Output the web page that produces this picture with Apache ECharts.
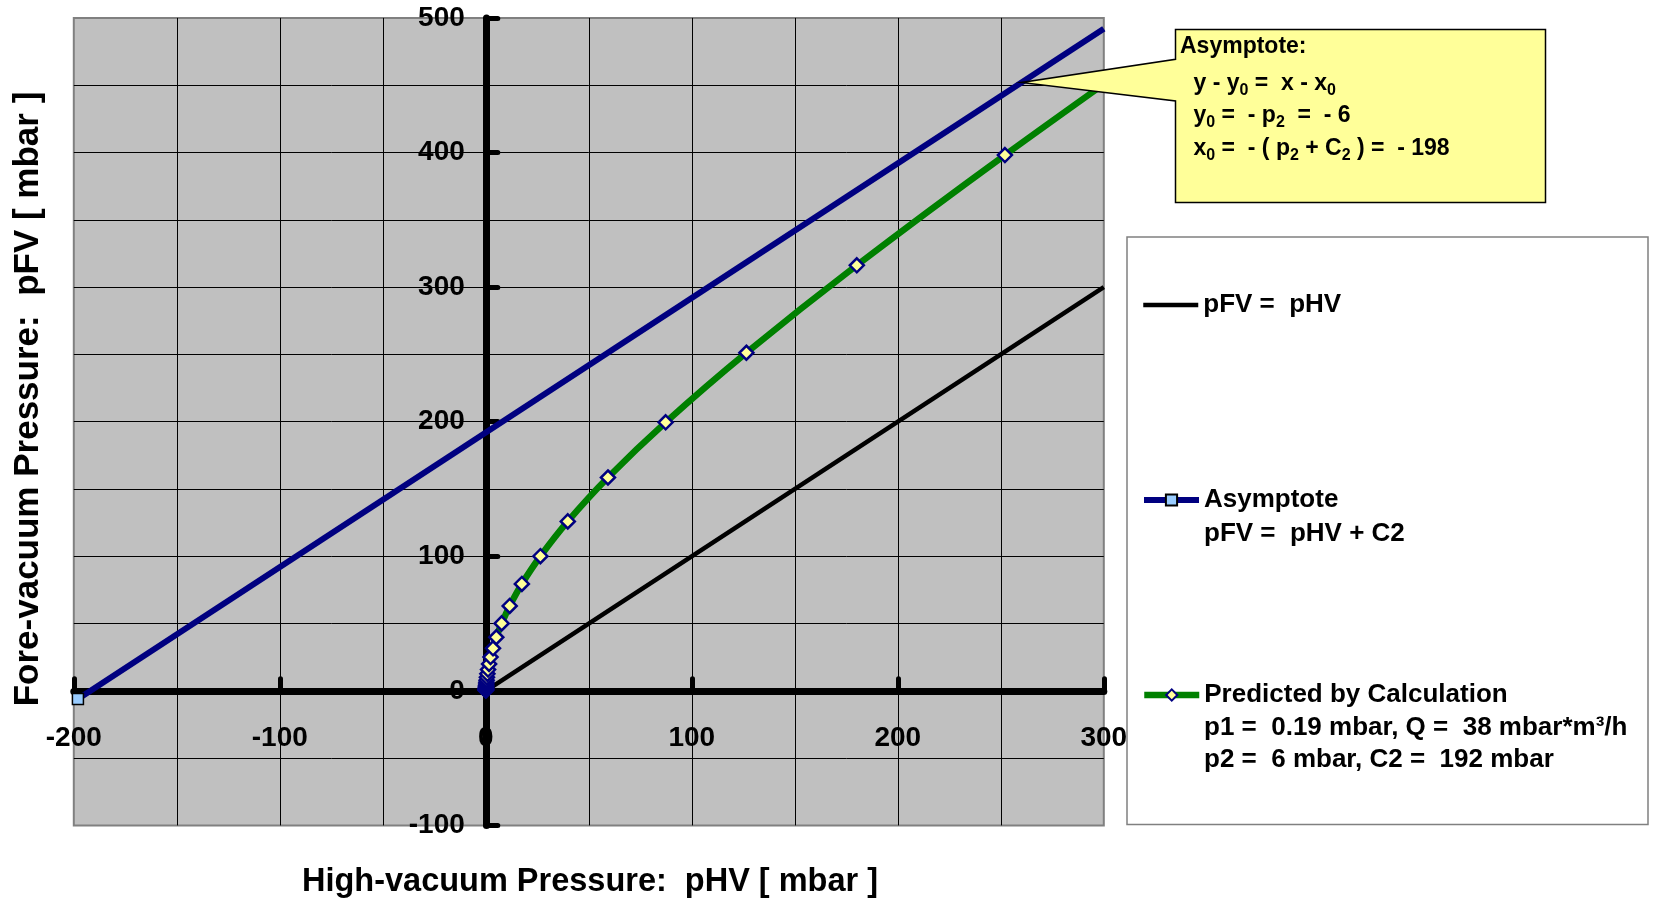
<!DOCTYPE html>
<html><head><meta charset="utf-8">
<script src="https://cdn.jsdelivr.net/npm/echarts@6/dist/echarts.min.js"></script>
<style>html,body{margin:0;padding:0;background:#fff}#c{width:1653px;height:903px}</style>
</head><body><div id="c"></div>
<script>
const FONT = '"Liberation Sans", Arial, Helvetica, sans-serif';
// tick labels
const xTickLabels = [-200, -100, 0, 100, 200, 300];
const yTickLabels = [-100, 0, 100, 200, 300, 400, 500];
// series: pFV = pHV
const identityX = [0, 300];
const identityY = [0, 300];
// series: asymptote pFV = pHV + C2
const asymX = [-198, 300];
const asymY = [-6, 492];
// series: predicted by calculation
const predX = [0.006, 0.012, 0.019, 0.026, 0.033, 0.044, 0.055, 0.071, 0.092, 0.12, 0.16, 0.21, 0.29, 0.4, 0.55, 0.78, 1.1, 1.6, 2.3, 3.5, 5.1, 7.7, 11.6, 17.5, 26.5, 39.8, 59.3, 87.3, 126.5, 180.1, 252.0, 346.4];
const predY = [0.2, 0.4, 0.6, 0.8, 1, 1.3, 1.6, 2, 2.5, 3.2, 4, 5, 6.3, 7.9, 10, 12.6, 15.8, 20, 25.1, 31.6, 39.8, 50.1, 63.1, 79.4, 100, 125.9, 158.5, 199.5, 251.2, 316.2, 398.1, 501.2];
// legend texts
const legendNames = ['pFV =  pHV', 'Asymptote', 'Predicted by Calculation'];
const legendExtra = [['pFV =  pHV + C2'], ['p1 =  0.19 mbar, Q =  38 mbar*m\u00b3/h', 'p2 =  6 mbar, C2 =  192 mbar']];
// callout anchor on asymptote (data coords)
const calloutTip = [260, 452];

const chart = echarts.init(document.getElementById('c'), null, {renderer: 'canvas', devicePixelRatio: 1});

const bold = {fontFamily: FONT, fontWeight: 'bold', color: '#000'};

const option = {
  animation: false,
  backgroundColor: '#fff',
  grid: {left: 73.8, top: 17.9, width: 1030, height: 807.5, show: true, backgroundColor: '#C0C0C0', borderColor: '#808080', borderWidth: 2, containLabel: false, outerBoundsMode: 'none'},
  xAxis: [
    {type: 'value', min: -200, max: 300, interval: 100, position: 'bottom',
     axisLine: {onZero: true, onZeroAxisIndex: 0, lineStyle: {color: '#000', width: 7}},
     axisTick: {inside: true, length: 12, lineStyle: {color: '#000', width: 5, cap: 'round'}},
     axisLabel: {show: false},
     splitLine: {show: false}},
    {type: 'value', min: -200, max: 300, interval: 50, position: 'top',
     axisLine: {show: false}, axisTick: {show: false}, axisLabel: {show: false},
     splitLine: {show: true, showMinLine: false, showMaxLine: false, lineStyle: {color: '#000', width: 1}}}
  ],
  yAxis: [
    {type: 'value', min: -100, max: 500, interval: 100, position: 'left',
     axisLine: {onZero: true, onZeroAxisIndex: 0, lineStyle: {color: '#000', width: 7}},
     axisTick: {inside: true, length: 12, lineStyle: {color: '#000', width: 5, cap: 'round'}},
     axisLabel: {show: false},
     splitLine: {show: false}},
    {type: 'value', min: -100, max: 500, interval: 50, position: 'right',
     axisLine: {show: false}, axisTick: {show: false}, axisLabel: {show: false},
     splitLine: {show: true, showMinLine: false, showMaxLine: false, lineStyle: {color: '#000', width: 1}}}
  ],
  legend: legendNames.map((n, i) => ({
    data: [i === 0 ? {name: n, itemStyle: {opacity: 0}} : n], left: 1141, top: [290, 485, 680][i], orient: 'horizontal', padding: 0,
    itemWidth: 55, itemHeight: 14, selectedMode: false,
    lineStyle: {width: 'inherit'},
    textStyle: Object.assign({fontSize: 26, lineHeight: 30}, bold)
  })),
  series: [
    {type: 'line', name: legendNames[0], xAxisIndex: 0, yAxisIndex: 0,
     data: identityX.map((x, i) => [x, identityY[i]]), symbol: 'none',
     lineStyle: {color: '#000', width: 4.5}, itemStyle: {color: '#000'}, z: 3},
    {type: 'line', name: legendNames[1], xAxisIndex: 0, yAxisIndex: 0,
     data: asymX.map((x, i) => ({value: [x, asymY[i]], symbol: i === 0 ? 'rect' : 'none'})),
     symbol: 'rect', symbolSize: 11, showAllSymbol: true,
     lineStyle: {color: '#000080', width: 6}, itemStyle: {color: '#99CCFF', borderColor: '#000', borderWidth: 1.5}, z: 4},
    {type: 'line', name: legendNames[2], xAxisIndex: 0, yAxisIndex: 0,
     data: predX.map((x, i) => [x, predY[i]]), symbol: 'diamond', symbolSize: 14, showAllSymbol: true, smooth: 0.3,
     lineStyle: {color: '#008000', width: 6.5}, itemStyle: {color: '#FFFF99', borderColor: '#000080', borderWidth: 2.5}, z: 5}
  ]
};
chart.setOption(option);

const tip = chart.convertToPixel({xAxisIndex: 0, yAxisIndex: 0}, calloutTip);
const originPx = chart.convertToPixel({xAxisIndex: 0, yAxisIndex: 0}, [0, 0]);
const bx0 = 1175.5, by0 = 29.5, bx1 = 1545.5, by1 = 202.5;
const sub = {fontFamily: FONT, fontWeight: 'bold', fontSize: 16, lineHeight: 29, verticalAlign: 'bottom', fill: '#000'};
const main = {fontFamily: FONT, fontWeight: 'bold', fontSize: 23, lineHeight: 29, fill: '#000'};
function richText(x, y, text) {
  return {type: 'text', z: 101, style: {x: x, y: y, text: text, rich: {m: main, s: sub}, verticalAlign: 'top', align: 'left'}};
}
function label(x, y, text, align) {
  return {type: 'text', z: 20, style: {x: x, y: y, text: text, fontSize: 28, align: align, verticalAlign: 'middle', fontFamily: FONT, fontWeight: 'bold', fill: '#000'}};
}
const graphics = [
  {type: 'rect', z: 1, shape: {x: 1127, y: 237, width: 521, height: 587.5}, style: {fill: '#fff', stroke: '#808080', lineWidth: 1.5}},
  {type: 'polygon', z: 100, shape: {points: [[bx0, by0], [bx1, by0], [bx1, by1], [bx0, by1], [bx0, 101], tip, [bx0, 59.3]]},
   style: {fill: '#FFFF99', stroke: '#000', lineWidth: 1.5}},
  richText(1180, 32.5, '{m|Asymptote:}'),
  richText(1193.5, 69.2, '{m|y - y}{s|0}{m| =  x - x}{s|0}'),
  richText(1193.5, 101.5, '{m|y}{s|0}{m| =  - p}{s|2}{m|  =  - 6}'),
  richText(1193.5, 134.2, '{m|x}{s|0}{m| =  - ( p}{s|2}{m| + C}{s|2}{m| ) =  - 198}'),
  {type: 'text', z: 10, style: {x: 1204, y: 533.5, text: legendExtra[0][0], fontSize: 26, verticalAlign: 'middle', fontFamily: FONT, fontWeight: 'bold', fill: '#000'}},
  {type: 'text', z: 10, style: {x: 1204, y: 727.4, text: legendExtra[1][0], fontSize: 26, verticalAlign: 'middle', fontFamily: FONT, fontWeight: 'bold', fill: '#000'}},
  {type: 'text', z: 10, style: {x: 1204, y: 760, text: legendExtra[1][1], fontSize: 26, verticalAlign: 'middle', fontFamily: FONT, fontWeight: 'bold', fill: '#000'}},
  {type: 'text', z: 10, style: {x: 590, y: 882, text: 'High-vacuum Pressure:  pHV [ mbar ]', fontSize: 32.5, align: 'center', verticalAlign: 'middle', fontFamily: FONT, fontWeight: 'bold', fill: '#000'}},
  {type: 'text', z: 10, x: 28.5, y: 399, rotation: Math.PI / 2, style: {x: 0, y: 0, text: 'Fore-vacuum Pressure:  pFV [ mbar ]', fontSize: 35, align: 'center', verticalAlign: 'middle', fontFamily: FONT, fontWeight: 'bold', fill: '#000'}}
];
xTickLabels.forEach(v => {
  const px = chart.convertToPixel({xAxisIndex: 0}, v);
  graphics.push(label(px, originPx[1] + 47, String(v), 'center'));
});
yTickLabels.forEach(v => {
  const py = chart.convertToPixel({yAxisIndex: 0}, v);
  graphics.push(label(originPx[0] - 21, py, String(v), 'right'));
});
chart.setOption({graphic: graphics});
</script></body></html>
